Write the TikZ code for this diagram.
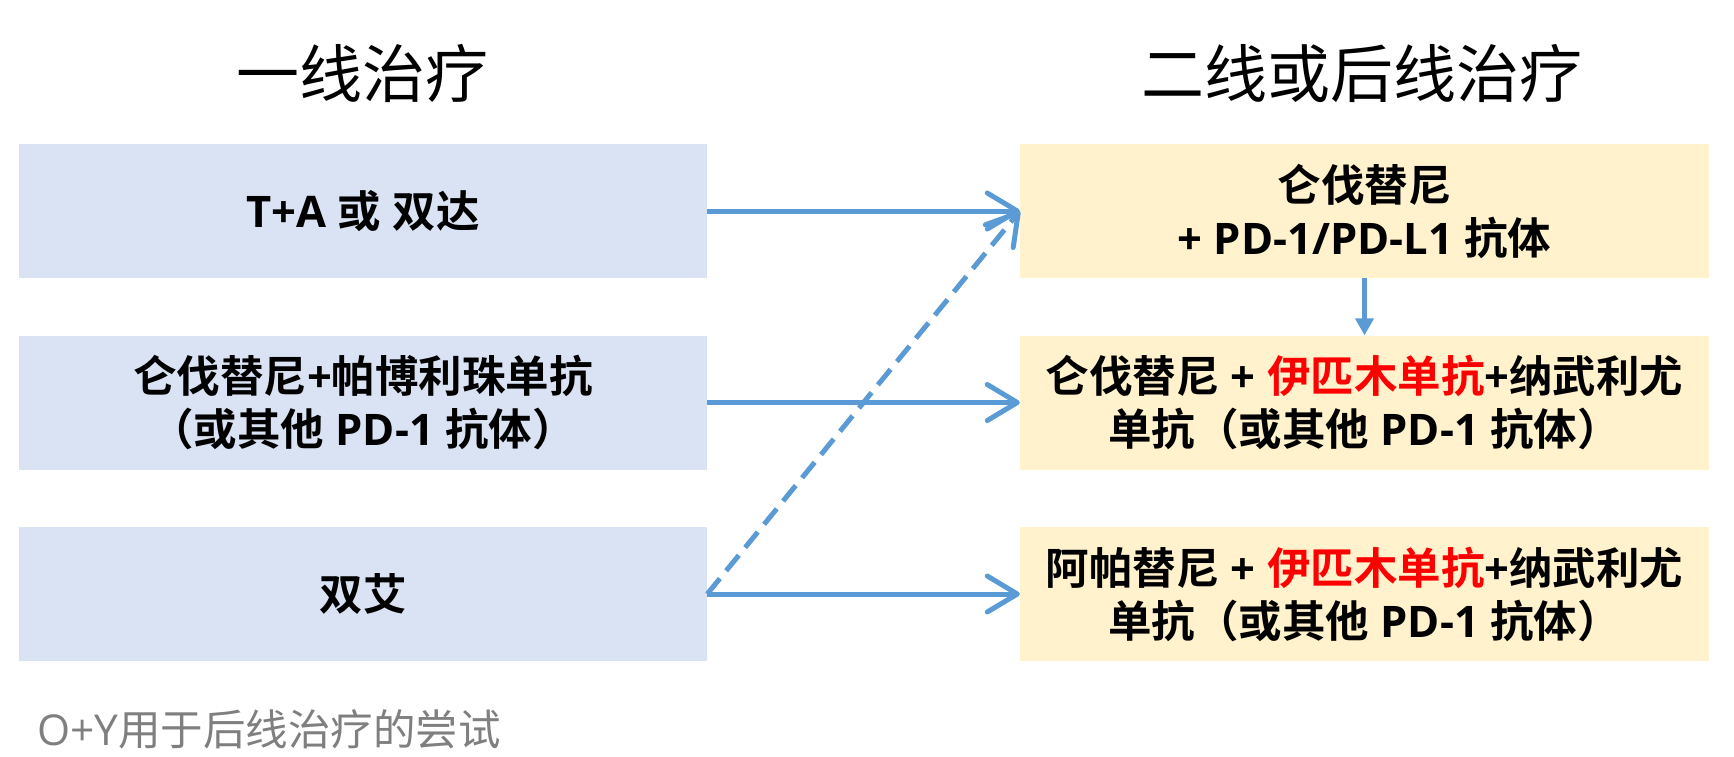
\documentclass[tikz,border=0pt]{standalone}
\usepackage{fontspec}
\setmainfont{Open Sans}
\newfontfamily\cjk{Noto Sans CJK SC}[BoldFont={Noto Sans CJK SC Bold}]
\usetikzlibrary{arrows.meta}
\newcommand\C[1]{{\cjk #1}}
\definecolor{lblue}{HTML}{DAE3F3}
\definecolor{lyel}{HTML}{FFF2CC}
\definecolor{arr}{HTML}{5B9BD5}
\definecolor{note}{HTML}{7F7F7F}
\tikzset{
  box/.style={minimum height=134pt, inner sep=0pt, align=center,
    font=\fontsize{43.5}{53}\selectfont\bfseries},
  lbox/.style={box, fill=lblue, minimum width=688pt},
  rbox/.style={box, fill=lyel, minimum width=689pt},
  head/.style={anchor=base, inner sep=0pt, font=\cjk\fontsize{63}{70}\selectfont},
  conn/.style={draw=arr, line width=5pt, -{Straight Barb[length=30pt,width=36pt,round]}},
  down/.style={draw=arr, line width=5pt, -{Triangle[length=17pt,width=18pt]}},
}
\begin{document}
\begin{tikzpicture}[x=1pt,y=-1pt]
\useasboundingbox (0,0) rectangle (1734,756);
\node[head] (h1) at (362,97) {一线治疗};
\node[head] (h2) at (1362,97) {二线或后线治疗};
\node[lbox] (l1) at (363,211) {T+A \C{或} \C{双达}};
\node[lbox] (l2) at (363,402.5) {\C{仑伐替尼}+\C{帕博利珠单抗}\\\C{（或其他} PD-1 \C{抗体）}};
\node[lbox] (l3) at (363,594) {\C{双艾}};
\node[rbox] (r1) at (1364.5,211) {\C{仑伐替尼}\\+ PD-1/PD-L1 \C{抗体}};
\node[rbox] (r2) at (1364.5,402.5) {\C{仑伐替尼} + {\color{red}\C{伊匹木单抗}}+\C{纳武利尤}\\\C{单抗（或其他} PD-1 \C{抗体）}};
\node[rbox] (r3) at (1364.5,594) {\C{阿帕替尼} + {\color{red}\C{伊匹木单抗}}+\C{纳武利尤}\\\C{单抗（或其他} PD-1 \C{抗体）}};
\node[anchor=base west, inner sep=0pt, text=note, font=\fontsize{42.5}{48}\selectfont] (n) at (37,745) {O+Y\C{用于后线治疗的尝试}};
\draw[conn] (l1.east) -- (r1.west);
\draw[conn] (l2.east) -- (r2.west);
\draw[conn] (l3.east) -- (r3.west);
\draw[conn, dash pattern=on 20pt off 10pt] (l3.east) -- (r1.west);
\draw[down] (r1.south) -- (r2.north);
\end{tikzpicture}
\end{document}
